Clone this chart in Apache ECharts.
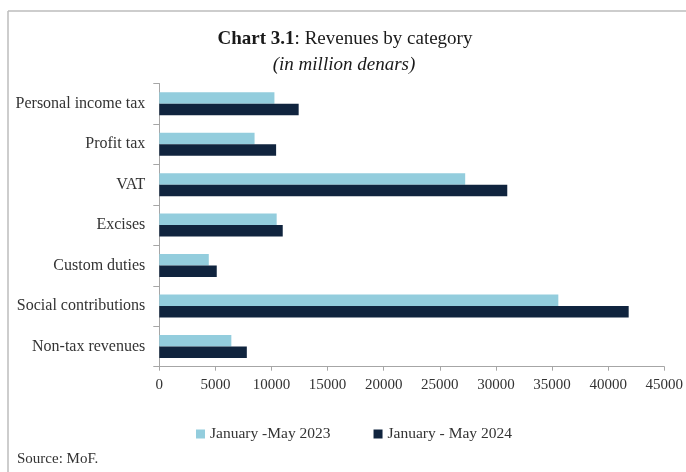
<!DOCTYPE html>
<html>
<head>
<meta charset="utf-8">
<script src="https://cdn.jsdelivr.net/npm/echarts@6/dist/echarts.min.js"></script>
<style>
  html, body { margin: 0; padding: 0; background: #ffffff; }
  #chart { width: 686px; height: 472px; }
</style>
</head>
<body>
<div id="chart"></div>
<script>
const categories = ['Personal income tax', 'Profit tax', 'VAT', 'Excises', 'Custom duties', 'Social contributions', 'Non-tax revenues'];
const jan_may_2023 = [10260, 8490, 27260, 10460, 4410, 35560, 6420];
const jan_may_2024 = [12420, 10410, 31010, 11000, 5120, 41830, 7800];
const seriesNames = ['January -May 2023', 'January - May 2024'];
const xTicks = { min: 0, max: 45000, interval: 5000 };

const FONT = 'Liberation Serif';
const chart = echarts.init(document.getElementById('chart'), null, { renderer: 'canvas' });

chart.setOption({
  animation: false,
  backgroundColor: '#ffffff',
  title: [
    {
      text: '{b|Chart 3.1}{r|: Revenues by category}',
      left: 345, top: 30, padding: 0,
      textAlign: 'center',
      textStyle: {
        rich: {
          b: { fontFamily: FONT, fontSize: 19, fontWeight: 'bold', color: '#1a1a1a' },
          r: { fontFamily: FONT, fontSize: 19, fontWeight: 'normal', color: '#1a1a1a' }
        }
      }
    },
    {
      text: '(in million denars)',
      left: 344, top: 55, padding: 0,
      textAlign: 'center',
      textStyle: { fontFamily: FONT, fontSize: 19, fontStyle: 'italic', fontWeight: 'normal', color: '#1a1a1a' }
    },
    {
      text: 'Source: MoF.',
      left: 17, top: 452, padding: 0,
      textStyle: { fontFamily: FONT, fontSize: 15, fontWeight: 'normal', color: '#333333' }
    }
  ],
  legend: {
    data: seriesNames,
    left: 196, top: 426, padding: 0,
    itemWidth: 9, itemHeight: 9, itemGap: 43,
    icon: 'rect',
    textStyle: { fontFamily: FONT, fontSize: 15.5, color: '#333333', padding: [0, 0, 0, 0] }
  },
  grid: { left: 159.3, right: 19.3, top: 83.5, bottom: 105.3, containLabel: false },
  xAxis: {
    type: 'value',
    min: xTicks.min, max: xTicks.max, interval: xTicks.interval,
    splitLine: { show: false },
    axisLine: { show: true, lineStyle: { color: '#a6a6a6', width: 1 } },
    axisTick: { show: true, length: 4, lineStyle: { color: '#a6a6a6' } },
    axisLabel: { fontFamily: FONT, fontSize: 15, color: '#333333', margin: 11, formatter: function (v) { return String(v); } }
  },
  yAxis: {
    type: 'category',
    data: categories,
    inverse: true,
    axisLine: { show: true, lineStyle: { color: '#a6a6a6', width: 1 } },
    axisTick: { show: true, length: 6, lineStyle: { color: '#a6a6a6' } },
    axisLabel: { fontFamily: FONT, fontSize: 16, color: '#333333', margin: 14 }
  },
  series: [
    {
      name: seriesNames[0], type: 'bar', data: jan_may_2023,
      barWidth: 11.5, barGap: '0%',
      itemStyle: { color: '#93cddd' }
    },
    {
      name: seriesNames[1], type: 'bar', data: jan_may_2024,
      barWidth: 11.5, barGap: '0%',
      itemStyle: { color: '#10243e' }
    }
  ],
  graphic: [
    { type: 'line', shape: { x1: 8, y1: 11, x2: 686, y2: 11 }, style: { stroke: '#bdbdbd', lineWidth: 1.5 }, silent: true },
    { type: 'line', shape: { x1: 8, y1: 11, x2: 8, y2: 472 }, style: { stroke: '#bdbdbd', lineWidth: 1.5 }, silent: true }
  ]
});
</script>
</body>
</html>
